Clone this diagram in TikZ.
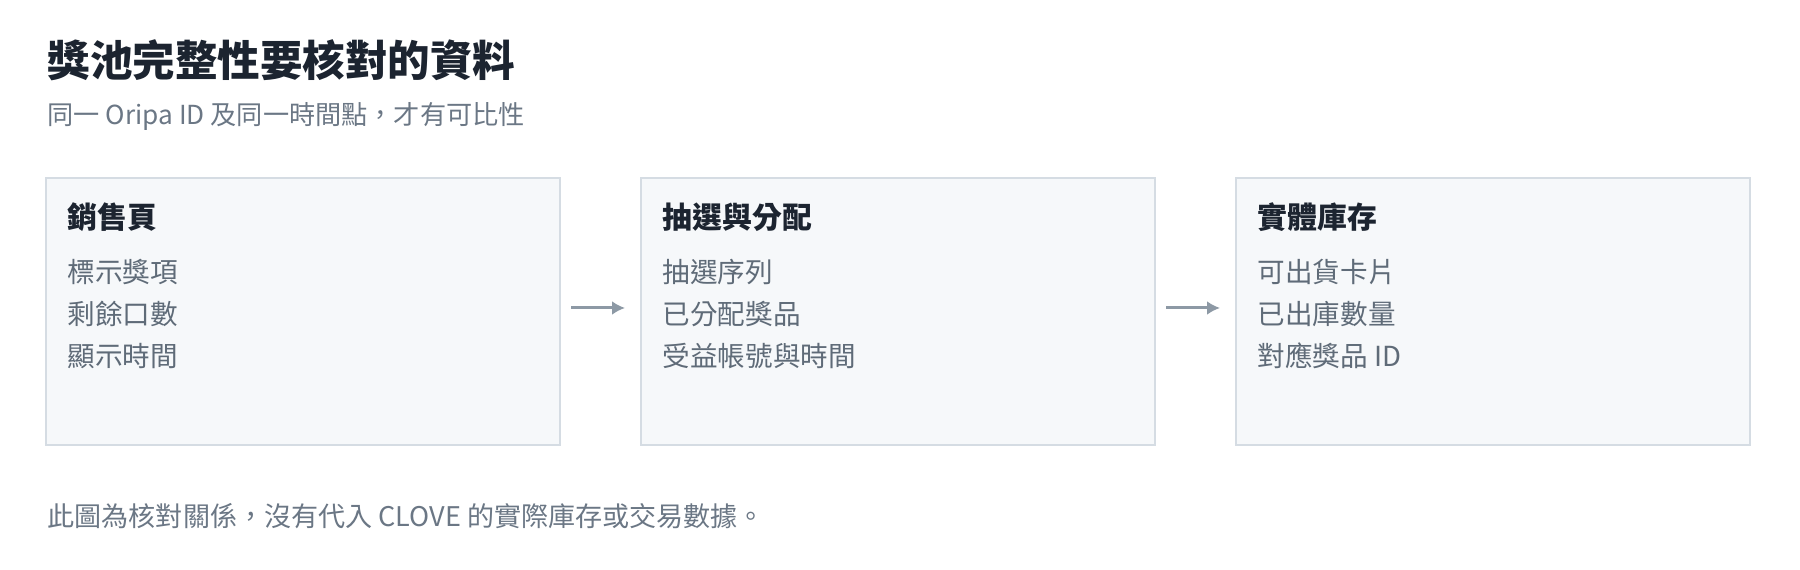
\documentclass[tikz,border=0pt]{standalone}
\usepackage{fontspec}
\setmainfont{Noto Sans CJK TC}
\usepackage{tikz}
\usetikzlibrary{arrows.meta}

\definecolor{inkdark}{HTML}{1C2430}
\definecolor{inkgray}{HTML}{6B7785}
\definecolor{itemgray}{HTML}{5F6B78}
\definecolor{boxfill}{HTML}{F6F8FA}
\definecolor{boxline}{HTML}{D5DCE3}
\definecolor{flowgray}{HTML}{8D99A5}

\tikzset{
  stagebox/.style={draw=boxline, fill=boxfill, line width=0.57pt, minimum width=5.14cm, minimum height=2.67cm, inner sep=0pt},
  headtext/.style={anchor=west, inner sep=0pt, text=inkdark, font=\fontsize{8.5}{10}\selectfont\bfseries},
  itemtext/.style={anchor=west, inner sep=0pt, text=itemgray, font=\fontsize{7.85}{9}\selectfont},
  flow/.style={flowgray, line width=0.85pt, -{Latex[length=0.13cm,width=0.14cm]}}
}

\begin{document}
\begin{tikzpicture}
            \useasboundingbox[fill=white] (0,0) rectangle (18,-5.7);

            % Title and note
            \node[anchor=west, inner sep=0pt, text=inkdark, font=\fontsize{12.1}{14}\selectfont\bfseries] (title) at (0.47,-0.60) {獎池完整性要核對的資料};
            \node[anchor=west, inner sep=0pt, text=inkgray, font=\fontsize{7.45}{9}\selectfont] (subtitle) at (0.47,-1.17) {同一 Oripa ID 及同一時間點，才有可比性};

            % Draw the three boxes
            \node[stagebox] (sales) at (3.03,-3.115) {};
            \node[stagebox] (draw) at (8.98,-3.115) {};
            \node[stagebox] (stock) at (14.93,-3.115) {};

            % Box 1: sales page
            \node[headtext] (salesH) at (0.67,-2.175) {銷售頁};
            \node[itemtext] (salesA) at (0.67,-2.72) {標示獎項};
            \node[itemtext] (salesB) at (0.67,-3.14) {剩餘口數};
            \node[itemtext] (salesC) at (0.67,-3.56) {顯示時間};

            % Box 2: draw and allocation
            \node[headtext] (drawH) at (6.62,-2.175) {抽選與分配};
            \node[itemtext] (drawA) at (6.62,-2.72) {抽選序列};
            \node[itemtext] (drawB) at (6.62,-3.14) {已分配獎品};
            \node[itemtext] (drawC) at (6.62,-3.56) {受益帳號與時間};

            % Box 3: physical stock
            \node[headtext] (stockH) at (12.57,-2.175) {實體庫存};
            \node[itemtext] (stockA) at (12.57,-2.72) {可出貨卡片};
            \node[itemtext] (stockB) at (12.57,-3.14) {已出庫數量};
            \node[itemtext] (stockC) at (12.57,-3.56) {對應獎品 ID};

            % Arrows between boxes
            \draw[flow, shorten <=0.10cm, shorten >=0.15cm] ([yshift=0.035cm]sales.east) -- ([yshift=0.035cm]draw.west);
            \draw[flow, shorten <=0.10cm, shorten >=0.15cm] ([yshift=0.035cm]draw.east) -- ([yshift=0.035cm]stock.west);

            % Footnote
            \node[anchor=west, inner sep=0pt, text=inkgray, font=\fontsize{7.7}{9}\selectfont] (footnote) at (0.47,-5.16) {此圖為核對關係，沒有代入 CLOVE 的實際庫存或交易數據。};
        \end{tikzpicture}
\end{document}
